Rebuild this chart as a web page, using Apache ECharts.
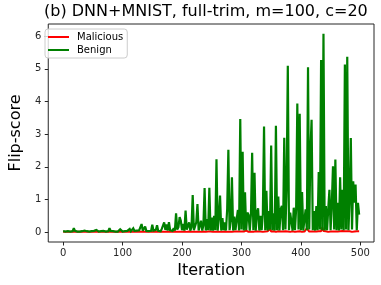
<!DOCTYPE html>
<html>
<head>
<meta charset="utf-8">
<script src="https://cdn.jsdelivr.net/npm/echarts@6/dist/echarts.min.js"></script>
<style>
html,body{margin:0;padding:0;background:#fff;}
#chart{width:381px;height:285px;}
</style>
</head>
<body>
<div id="chart"></div>
<script>
// iterations sampled every 2 steps: 0, 2, ..., 498
const iterations = [];
for (let i = 0; i < 500; i += 2) iterations.push(i);

const benign = [
  0.03,0.02,0.02,0.02,0.03,0.02,0.02,0.02,0.03,0.12,
  0.04,0.02,0.02,0.03,0.02,0.02,0.03,0.02,0.05,0.06,
  0.03,0.02,0.02,0.02,0.03,0.02,0.04,0.05,0.07,0.03,
  0.02,0.02,0.03,0.02,0.04,0.02,0.02,0.05,0.03,0.12,
  0.04,0.02,0.03,0.06,0.02,0.03,0.02,0.05,0.09,0.03,
  0.02,0.06,0.03,0.02,0.04,0.02,0.10,0.03,0.05,0.12,
  0.04,0.02,0.05,0.03,0.06,0.02,0.25,0.05,0.03,0.17,
  0.04,0.06,0.03,0.08,0.04,0.23,0.05,0.03,0.07,0.21,
  0.04,0.08,0.03,0.10,0.05,0.30,0.07,0.24,0.05,0.31,
  0.06,0.10,0.04,0.12,0.05,0.58,0.08,0.15,0.46,0.35,
  0.06,0.25,0.05,0.66,0.08,0.04,0.30,0.05,0.15,1.14,
  0.06,0.04,0.30,0.86,0.05,0.10,0.35,0.05,0.20,1.35,
  0.05,0.40,0.06,1.36,0.05,0.45,0.05,0.50,0.06,2.23,
  0.05,0.45,1.12,0.05,0.43,0.06,0.30,0.05,0.71,2.52,
  0.06,0.35,1.68,0.05,0.48,0.06,0.40,0.68,0.05,3.46,
  0.08,2.46,0.05,1.22,0.06,0.60,0.53,0.05,0.55,2.43,
  0.06,1.82,0.05,0.60,0.73,0.05,0.50,0.06,0.55,3.23,
  0.06,1.27,0.05,0.65,0.08,2.65,0.06,0.58,0.05,3.26,
  0.06,1.09,0.05,0.70,0.81,0.06,2.89,0.08,1.39,5.09,
  0.06,0.60,0.63,0.05,0.75,0.06,0.70,3.94,0.08,3.62,
  0.06,1.23,0.05,0.39,0.70,0.06,5.05,0.08,2.48,3.44,
  0.06,0.65,0.05,0.80,0.06,1.84,0.08,5.27,0.06,6.07,
  0.05,0.80,0.06,0.70,1.30,0.06,0.85,2.02,0.08,2.22,
  0.06,0.90,0.05,1.68,0.08,1.30,0.06,5.13,0.08,5.37,
  0.06,1.00,2.88,0.08,1.56,0.90,1.46,0.06,0.90,0.54
];

const malicious = [
  0.01,0.01,0.01,0.01,0.01,0.01,0.01,0.01,0.01,0.01,
  0.01,0.01,0.01,0.01,0.01,0.01,0.01,0.01,0.01,0.01,
  0.01,0.01,0.01,0.01,0.01,0.01,0.01,0.01,0.01,0.01,
  0.01,0.01,0.01,0.01,0.01,0.01,0.01,0.01,0.01,0.01,
  0.01,0.01,0.01,0.01,0.01,0.01,0.01,0.01,0.01,0.01,
  0.01,0.01,0.01,0.01,0.01,0.01,0.01,0.01,0.01,0.01,
  0.01,0.01,0.01,0.01,0.01,0.01,0.01,0.01,0.01,0.01,
  0.01,0.01,0.01,0.01,0.01,0.01,0.01,0.01,0.01,0.01,
  0.01,0.01,0.01,0.01,0.01,0.01,0.01,0.01,0.01,0.01,
  0.01,0.01,0.01,0.01,0.01,0.01,0.01,0.01,0.01,0.01,
  0.01,0.01,0.02,0.01,0.01,0.01,0.02,0.01,0.01,0.01,
  0.01,0.02,0.01,0.01,0.01,0.02,0.01,0.01,0.02,0.01,
  0.01,0.01,0.02,0.01,0.02,0.01,0.01,0.02,0.01,0.01,
  0.02,0.01,0.01,0.02,0.01,0.01,0.02,0.01,0.01,0.02,
  0.01,0.02,0.01,0.01,0.02,0.01,0.02,0.01,0.02,0.01,
  0.02,0.01,0.02,0.01,0.05,0.02,0.01,0.02,0.01,0.02,
  0.01,0.02,0.03,0.01,0.02,0.01,0.02,0.03,0.01,0.02,
  0.02,0.01,0.03,0.02,0.10,0.02,0.01,0.03,0.02,0.01,
  0.02,0.03,0.01,0.02,0.03,0.02,0.01,0.03,0.02,0.02,
  0.03,0.01,0.02,0.03,0.02,0.01,0.03,0.02,0.02,0.03,
  0.02,0.01,0.03,0.02,0.02,0.12,0.13,0.02,0.03,0.02,
  0.06,0.02,0.03,0.02,0.01,0.03,0.02,0.03,0.16,0.04,
  0.02,0.03,0.02,0.01,0.03,0.02,0.03,0.02,0.04,0.02,
  0.03,0.02,0.01,0.03,0.02,0.04,0.02,0.03,0.02,0.03,
  0.02,0.03,0.02,0.01,0.03,0.02,0.02,0.03,0.02,0.03
];

const xTicks = [0, 100, 200, 300, 400, 500];
const yTicks = [0, 1, 2, 3, 4, 5, 6];
const titleText = '(b) DNN+MNIST, full-trim, m=100, c=20';
const xName = 'Iteration';
const yName = 'Flip-score';
const seriesNames = ['Malicious', 'Benign'];

const pairs = (vals) => vals.map((v, i) => [iterations[i], v]);

const chart = echarts.init(document.getElementById('chart'), null, {renderer: 'canvas'});
const font = 'DejaVu Sans';
const dark = '#262626';
chart.setOption({
  animation: false,
  backgroundColor: '#fff',
  title: {
    text: titleText,
    left: 44, top: 4,
    padding: 0,
    textStyle: {fontFamily: font, fontSize: 16, fontWeight: 'normal', color: '#000'}
  },
  legend: {
    orient: 'vertical', left: 45, top: 29,
    padding: [3, 4, 3, 3],
    itemGap: 3,
    itemWidth: 21, itemHeight: 2,
    borderColor: '#cccccc', borderWidth: 1, borderRadius: 3,
    backgroundColor: 'rgba(255,255,255,0.8)',
    textStyle: {fontFamily: font, fontSize: 10, color: '#000', padding: [0, 0, 0, 3]},
    data: [
      {name: seriesNames[0], icon: 'rect', itemStyle: {color: '#ff0000'}},
      {name: seriesNames[1], icon: 'rect', itemStyle: {color: '#008000'}}
    ]
  },
  grid: {left: 40, right: 7, top: 24, bottom: 43, show: true, borderColor: dark, borderWidth: 1, backgroundColor: 'transparent'},
  xAxis: {
    type: 'value', min: -25, max: 523,
    name: xName, nameLocation: 'middle', nameGap: 19,
    nameTextStyle: {fontFamily: font, fontSize: 16, color: '#000'},
    axisLine: {show: false, onZero: false},
    splitLine: {show: false},
    axisTick: {show: true, length: 3.5, lineStyle: {color: dark}, customValues: xTicks},
    axisLabel: {fontFamily: font, fontSize: 10, color: dark, margin: 6, customValues: xTicks}
  },
  yAxis: {
    type: 'value', min: -0.3, max: 6.37,
    name: yName, nameLocation: 'middle', nameGap: 18, nameRotate: 90,
    nameTextStyle: {fontFamily: font, fontSize: 16, color: '#000'},
    axisLine: {show: false, onZero: false},
    splitLine: {show: false},
    axisTick: {show: true, length: 3.5, lineStyle: {color: dark}, customValues: yTicks},
    axisLabel: {fontFamily: font, fontSize: 10, color: dark, margin: 7, customValues: yTicks}
  },
  series: [
    {name: seriesNames[0], type: 'line', data: pairs(malicious), showSymbol: false, symbol: 'none',
     lineStyle: {color: '#ff0000', width: 2}, itemStyle: {color: '#ff0000'}, z: 2},
    {name: seriesNames[1], type: 'line', data: pairs(benign), showSymbol: false, symbol: 'none',
     lineStyle: {color: '#008000', width: 2.2, join: 'miter', miterLimit: 2}, itemStyle: {color: '#008000'}, z: 3}
  ]
});
</script>
</body>
</html>
